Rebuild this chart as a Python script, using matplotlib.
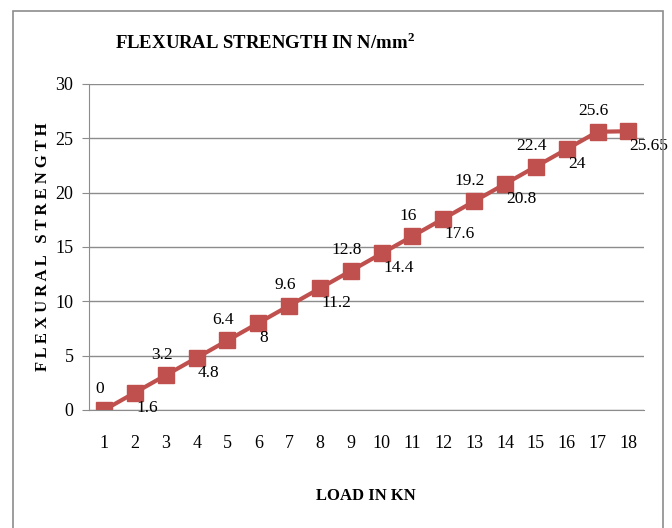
import matplotlib.pyplot as plt
from matplotlib.patches import Rectangle

# load steps (category axis) and flexural strength values
loads = list(range(1, 19))
strength = [0, 1.6, 3.2, 4.8, 6.4, 8, 9.6, 11.2, 12.8, 14.4,
            16, 17.6, 19.2, 20.8, 22.4, 24, 25.6, 25.65]
labels = ['0', '1.6', '3.2', '4.8', '6.4', '8', '9.6', '11.2', '12.8', '14.4',
          '16', '17.6', '19.2', '20.8', '22.4', '24', '25.6', '25.65']

plt.rcParams['font.family'] = ['Liberation Serif', 'DejaVu Serif']
plt.rcParams['mathtext.fontset'] = 'custom'
plt.rcParams['mathtext.rm'] = 'Liberation Serif'
plt.rcParams['mathtext.bf'] = 'Liberation Serif:bold'

fig = plt.figure(figsize=(6.72, 5.28), dpi=100)
ax = fig.add_axes([0.132, 0.2235, 0.826, 0.6175])

# outer chart frame
fig.patches.append(Rectangle((13/672, -0.05), 650/672, 1.04 - 6/528, transform=fig.transFigure,
                             fill=False, edgecolor='#8c8c8c', linewidth=1.2, clip_on=False))

ax.plot(loads, strength, color='#C0504D', linewidth=3, marker='s', markersize=11,
        markerfacecolor='#C0504D', markeredgecolor='#C0504D')

for i, (x, y, t) in enumerate(zip(loads, strength, labels)):
    if i % 2 == 0:
        ax.annotate(t, (x, y), xytext=(-3, 9), textcoords='offset points',
                    ha='center', va='bottom', fontsize=12.5)
    else:
        ax.annotate(t, (x, y), xytext=(1, -5), textcoords='offset points',
                    ha='left', va='top', fontsize=12.5)

ax.set_xlim(0.5, 18.5)
ax.set_ylim(0, 30)
ax.set_yticks(range(0, 31, 5))
ax.set_xticks(loads)
ax.yaxis.grid(True, color='#8c8c8c', linewidth=1)
ax.set_axisbelow(True)
for s in ['top', 'right']:
    ax.spines[s].set_visible(False)
ax.spines['left'].set_color('#8c8c8c')
ax.spines['bottom'].set_color('#8c8c8c')
ax.tick_params(axis='y', length=5, color='#8c8c8c', labelsize=13, pad=6)
ax.tick_params(axis='x', length=0, labelsize=13, pad=18)

fig.text(0.395, 0.92, r'FLEXURAL STRENGTH IN N/mm$^{\mathbf{2}}$', ha='center', va='center',
         fontsize=13.5, fontweight='bold')
ax.set_ylabel('F L E X U R A L   S T R E N G T H', fontsize=12, fontweight='bold', labelpad=3)
ax.set_xlabel('LOAD IN KN', fontsize=12, fontweight='bold', labelpad=26)

fig.savefig('out.png', dpi=100)
